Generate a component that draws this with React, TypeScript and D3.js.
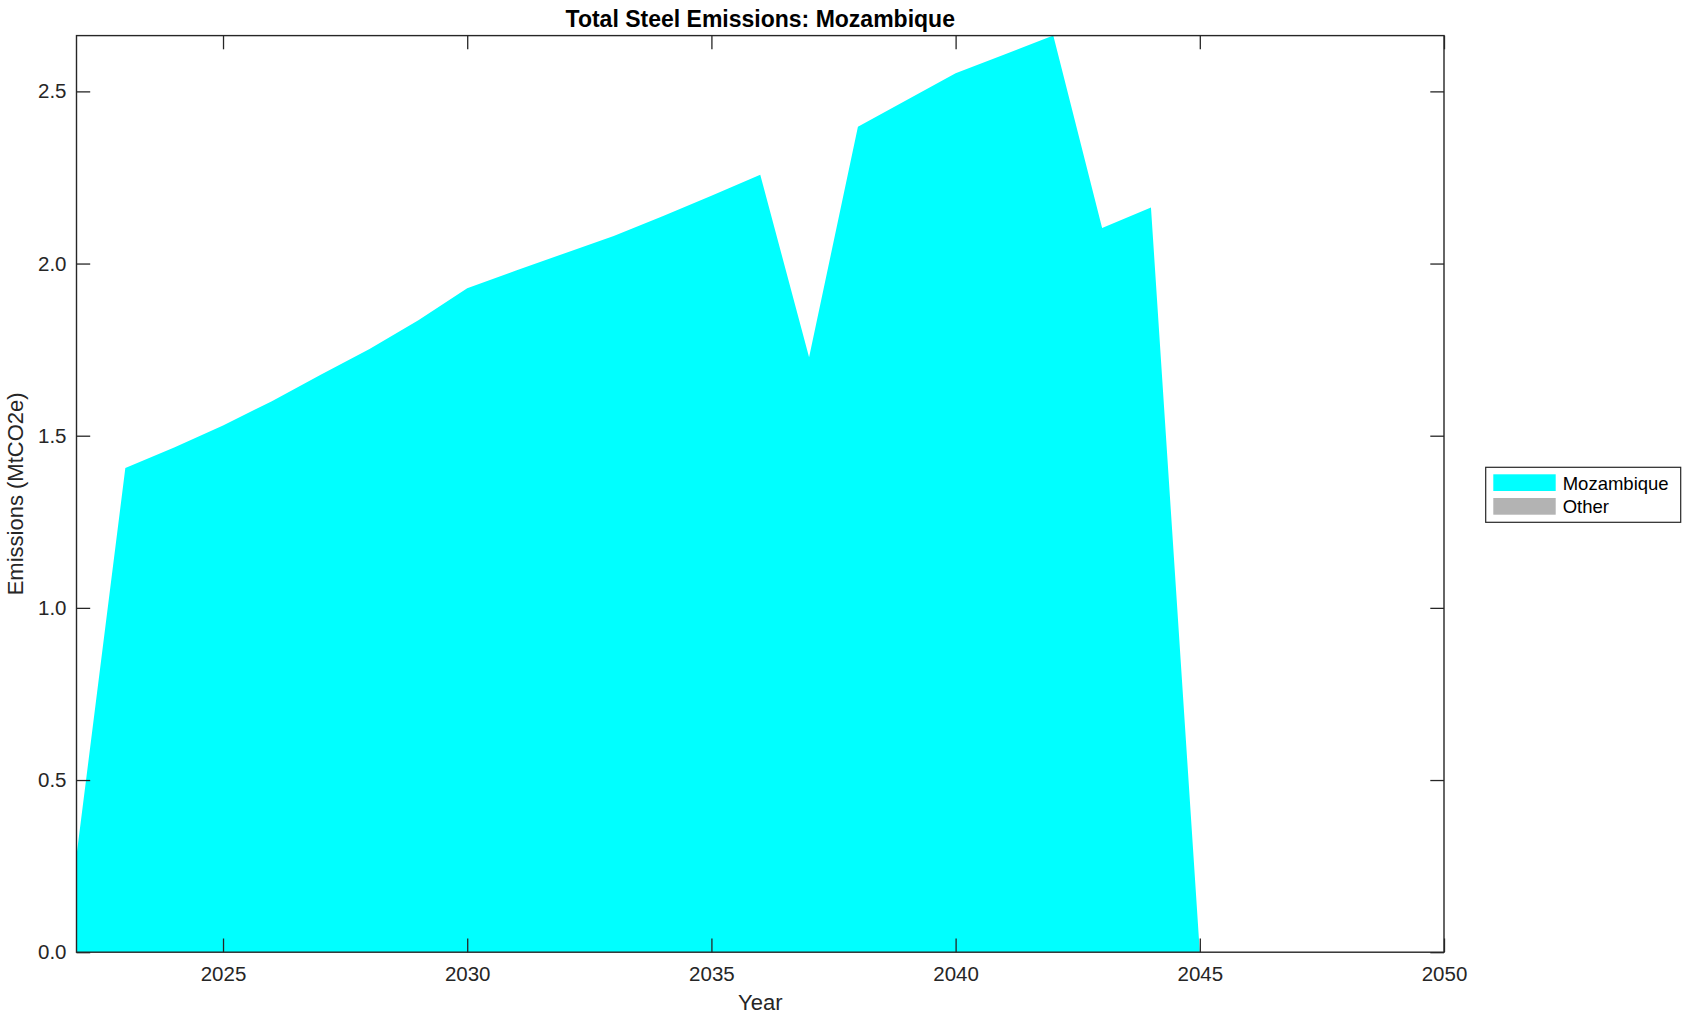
import React, { useEffect, useRef } from "react";
import * as d3 from "d3";

// years on the x axis
const years = d3.range(2022, 2051);

// emissions (MtCO2e) per year
const mozambique = [
  0.28, 1.406, 1.466, 1.53, 1.6, 1.677, 1.752, 1.835, 1.928, 1.98, 2.03, 2.08,
  2.137, 2.197, 2.258, 1.728, 2.397, 2.475, 2.553, 2.607, 2.662, 2.103, 2.163,
  0, 0, 0, 0, 0, 0,
];
const other = [
  0, 0, 0, 0, 0, 0, 0, 0, 0, 0, 0, 0, 0, 0, 0, 0, 0, 0, 0, 0, 0, 0, 0, 0, 0, 0,
  0, 0, 0,
];

const seriesNames = ["Mozambique", "Other"];
const seriesColors = ["#00ffff", "#b3b3b3"];

const xTicks = [2025, 2030, 2035, 2040, 2045, 2050];
const yTicks = [0, 0.5, 1.0, 1.5, 2.0, 2.5];

const App = () => {
  const svgRef = useRef<SVGSVGElement>(null);

  useEffect(() => {
    const svg = d3.select(svgRef.current);
    svg.selectAll("*").remove();

    const W = 1691;
    const H = 1021;
    const left = 76.5;
    const right = 1444;
    const top = 35.6;
    const bottom = 952.2;
    const axisColor = "#262626";
    const font = "'Liberation Sans', Arial, Helvetica, sans-serif";
    const tickLen = 13.7;

    svg.attr("width", W).attr("height", H).style("background", "#fff");

    // stacked data
    const rows = years.map((y, i) => ({
      year: y,
      Mozambique: mozambique[i],
      Other: other[i],
    }));
    const stacked = d3.stack<any>().keys(seriesNames)(rows);

    const x = d3.scaleLinear().domain([2022, 2050]).range([left, right]);
    const yMax = d3.max(rows, (d) => d.Mozambique + d.Other) as number;
    const y = d3.scaleLinear().domain([0, yMax]).range([bottom, top]);

    const area = d3
      .area<any>()
      .x((d) => x(d.data.year))
      .y0((d) => y(d[0]))
      .y1((d) => y(d[1]));

    svg
      .append("g")
      .selectAll("path")
      .data(stacked)
      .join("path")
      .attr("d", (d) => area(d))
      .attr("fill", (d, i) => seriesColors[i])
      .attr("stroke", "none");

    // axes: bottom/left with labels, top/right ticks only (inside)
    const xAxis = d3
      .axisBottom(x)
      .tickValues(xTicks)
      .tickFormat(d3.format("d"))
      .tickSizeInner(-tickLen)
      .tickSizeOuter(0)
      .tickPadding(14);
    const yAxis = d3
      .axisLeft(y)
      .tickValues(yTicks)
      .tickFormat(d3.format(".1f"))
      .tickSizeInner(-tickLen)
      .tickSizeOuter(0)
      .tickPadding(10);
    const xTop = d3
      .axisTop(x)
      .tickValues(xTicks)
      .tickFormat(() => "")
      .tickSizeInner(-tickLen)
      .tickSizeOuter(0);
    const yRight = d3
      .axisRight(y)
      .tickValues(yTicks)
      .tickFormat(() => "")
      .tickSizeInner(-tickLen)
      .tickSizeOuter(0);

    const gx = svg.append("g").attr("transform", `translate(0,${bottom})`).call(xAxis);
    const gy = svg.append("g").attr("transform", `translate(${left},0)`).call(yAxis);
    const gxt = svg.append("g").attr("transform", `translate(0,${top})`).call(xTop);
    const gyr = svg.append("g").attr("transform", `translate(${right},0)`).call(yRight);

    [gx, gy, gxt, gyr].forEach((g) => {
      g.select(".domain").remove();
      g.selectAll("line").attr("stroke", axisColor).attr("stroke-width", 1.3);
      g.selectAll("text")
        .attr("fill", axisColor)
        .style("font-family", font)
        .style("font-size", "20.5px");
    });

    // box
    svg
      .append("rect")
      .attr("x", left)
      .attr("y", top)
      .attr("width", right - left)
      .attr("height", bottom - top)
      .attr("fill", "none")
      .attr("stroke", axisColor)
      .attr("stroke-width", 1.4);

    // title
    svg
      .append("text")
      .attr("x", (left + right) / 2)
      .attr("y", 27)
      .attr("text-anchor", "middle")
      .style("font-family", font)
      .style("font-size", "23px")
      .style("font-weight", "bold")
      .attr("fill", "#000")
      .text("Total Steel Emissions: Mozambique");

    // axis labels
    svg
      .append("text")
      .attr("x", (left + right) / 2)
      .attr("y", 1010)
      .attr("text-anchor", "middle")
      .style("font-family", font)
      .style("font-size", "22px")
      .attr("fill", axisColor)
      .text("Year");

    svg
      .append("text")
      .attr("transform", `translate(23,${(top + bottom) / 2}) rotate(-90)`)
      .attr("text-anchor", "middle")
      .style("font-family", font)
      .style("font-size", "22px")
      .attr("fill", axisColor)
      .text("Emissions (MtCO2e)");

    // legend
    const lg = svg.append("g");
    lg.append("rect")
      .attr("x", 1485.7)
      .attr("y", 467.3)
      .attr("width", 195)
      .attr("height", 55)
      .attr("fill", "#fff")
      .attr("stroke", axisColor)
      .attr("stroke-width", 1.2);
    seriesNames.forEach((name, i) => {
      lg.append("rect")
        .attr("x", 1493.3)
        .attr("y", 474.3 + i * 23.7)
        .attr("width", 62.4)
        .attr("height", 16.7)
        .attr("fill", seriesColors[i]);
      lg.append("text")
        .attr("x", 1562.7)
        .attr("y", 489.5 + i * 23.2)
        .style("font-family", font)
        .style("font-size", "18.5px")
        .attr("fill", "#000")
        .text(name);
    });
  }, []);

  return (
    <svg
      ref={svgRef}
      style={{ position: "absolute", left: 0, top: 0, display: "block" }}
    ></svg>
  );
};

export default App;
